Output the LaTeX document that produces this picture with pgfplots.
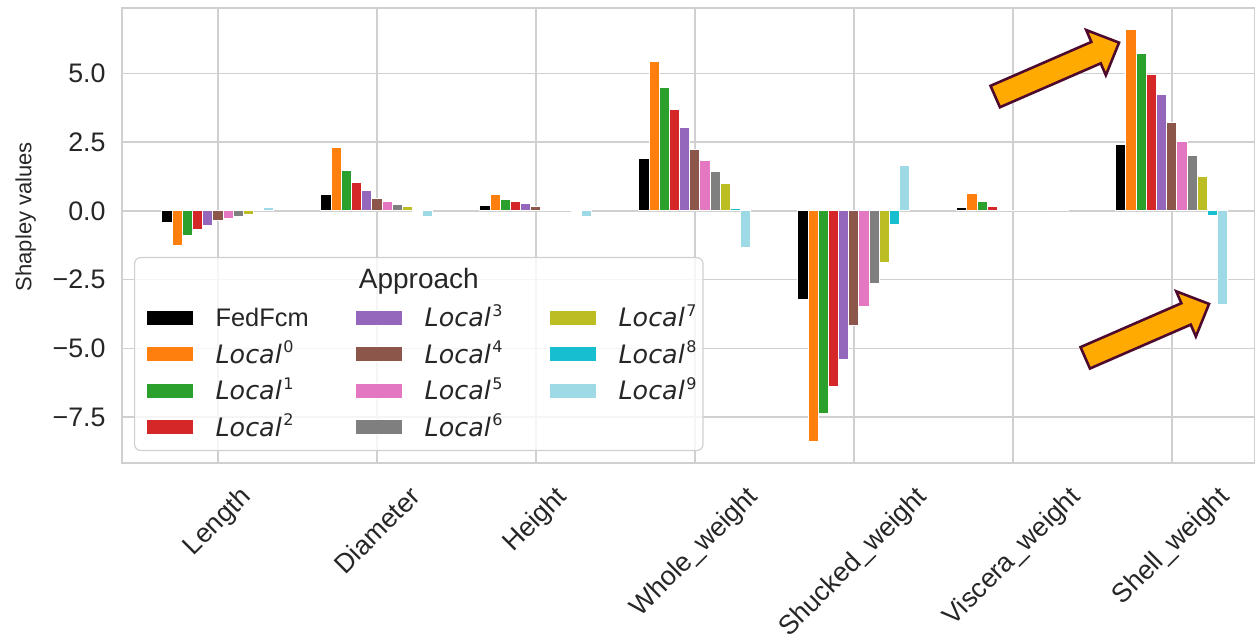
\documentclass[border=0pt]{standalone}
\usepackage{fontspec}
\setmainfont{Liberation Sans}
\newfontfamily\djv{DejaVu Sans}
\usepackage{graphicx}
\usepackage{pgfplots}
\usepackage{pgfplotstable}
\pgfplotsset{compat=1.18}

\definecolor{c0}{HTML}{000000}
\definecolor{c1}{HTML}{FF7F0E}
\definecolor{c2}{HTML}{2CA02C}
\definecolor{c3}{HTML}{D62728}
\definecolor{c4}{HTML}{9467BD}
\definecolor{c5}{HTML}{8C564B}
\definecolor{c6}{HTML}{E377C2}
\definecolor{c7}{HTML}{7F7F7F}
\definecolor{c8}{HTML}{BCBD22}
\definecolor{c9}{HTML}{17BECF}
\definecolor{c10}{HTML}{9EDAE5}
\definecolor{gridc}{HTML}{D0D0D0}
\definecolor{txt}{HTML}{262626}
\definecolor{arrfill}{HTML}{FFAA00}
\definecolor{arrdraw}{HTML}{4D0A2E}

\newcommand{\loc}[1]{{\djv\itshape Local}\kern0.8pt\raisebox{5.3pt}{\djv\fontsize{8}{8}\selectfont #1}}

\pgfplotstableread{
x     F      L0     L1     L2     L3     L4     L5     L6     L7     L8     L9
0   -0.41  -1.27  -0.88  -0.69  -0.53  -0.36  -0.29  -0.21  -0.13   0.01   0.11
1    0.61   2.32   1.47   1.02   0.75   0.46   0.36   0.25   0.15  -0.02  -0.21
2    0.19   0.61   0.42   0.35   0.27   0.15   0.07   0.05   0.01  -0.03  -0.21
3    1.92   5.43   4.50   3.70   3.03   2.25   1.82   1.43   1.00   0.08  -1.32
4   -3.21  -8.39  -7.38  -6.39  -5.42  -4.15  -3.48  -2.64  -1.88  -0.51   1.64
5    0.13   0.63   0.34   0.15   0.02   0.01   0.01   0.00   0.00   0.00   0.00
6    2.42   6.59   5.72   4.96   4.24   3.22   2.52   2.01   1.25  -0.16  -3.39
}\shap

\pgfplotsset{mybar/.style={fill=#1, draw=white, line width=0.5pt,
  legend image code/.code={\draw[fill=#1, draw=white, line width=0.5pt] (0pt,-3.75pt) rectangle (23.5pt,3.75pt);}}}

\begin{document}
\begin{tikzpicture}
\begin{axis}[
  scale only axis, width=566.5pt, height=227.65pt,
  xmin=-0.604, xmax=6.52, ymin=-9.17, ymax=7.38,
  ybar=0pt, bar width=5.09pt,
  xtick={0,1,2,3,4,5,6},
  xticklabels={\rotatebox{45}{Length},\rotatebox{45}{Diameter},\rotatebox{45}{Height},\rotatebox{45}{Whole\_weight},\rotatebox{45}{Shucked\_weight},\rotatebox{45}{Viscera\_weight},\rotatebox{45}{Shell\_weight}},
  ytick={-7.5,-5,-2.5,0,2.5,5},
  yticklabels={−7.5,−5.0,−2.5,0.0,2.5,5.0},
  xticklabel style={anchor=north, inner sep=0pt, yshift=-10.5pt, font=\fontsize{13.4}{16}\selectfont, text=txt},
  yticklabel style={anchor=east, inner sep=0pt, xshift=-8pt, font=\fontsize{13.4}{16}\selectfont, text=txt},
  grid=major, major grid style={gridc, line width=0.8pt},
  axis line style={gridc, line width=0.8pt},
  major tick length=0pt, tick style={draw=none},
  ylabel={Shapley values},
  every axis y label/.style={at={(rel axis cs:-0.0944,0.5416)}, rotate=90, anchor=north, inner sep=0pt, font=\fontsize{11}{13}\selectfont, text=txt},
  legend style={at={(rel axis cs:0.02056,0.3483)}, anchor=north west, draw=none, fill=none,
    inner sep=0pt, row sep=5.25pt, font=\fontsize{12.7}{14}\selectfont, text=txt,
    nodes={inner sep=0pt, text height=11pt, text depth=2pt},
    /tikz/every odd column/.append style={column sep=11pt},
    /tikz/every even column/.append style={column sep=23pt}},
  legend cell align=left,
  transpose legend, legend columns=4,
]
\addplot[mybar=c0] table[x=x, y=F] {\shap};
\addplot[mybar=c1] table[x=x, y=L0] {\shap};
\addplot[mybar=c2] table[x=x, y=L1] {\shap};
\addplot[mybar=c3] table[x=x, y=L2] {\shap};
\addplot[mybar=c4] table[x=x, y=L3] {\shap};
\addplot[mybar=c5] table[x=x, y=L4] {\shap};
\addplot[mybar=c6] table[x=x, y=L5] {\shap};
\addplot[mybar=c7] table[x=x, y=L6] {\shap};
\addplot[mybar=c8] table[x=x, y=L7] {\shap};
\addplot[mybar=c9] table[x=x, y=L8] {\shap};
\addplot[mybar=c10] table[x=x, y=L9] {\shap};
\legend{FedFcm,\loc{0},\loc{1},\loc{2},\loc{3},\loc{4},\loc{5},\loc{6},\loc{7},\loc{8},\loc{9}}

\draw[gridc, line width=0.6pt, rounded corners=3pt, fill=white, fill opacity=0.8]
  (rel axis cs:0.01121,0.45157) rectangle (rel axis cs:0.51306,0.02767);
\node[anchor=base, inner sep=0pt, text=txt, font=\fontsize{14}{16}\selectfont] at (rel axis cs:0.26214,0.38436) {Approach};

\draw[fill=arrfill, draw=arrdraw, line width=1.3pt, line join=miter]
  (axis cs:6.2347,-3.3818) -- (axis cs:6.0283,-2.9236) -- (axis cs:6.0604,-3.3564)
  -- (axis cs:5.4262,-4.9527) -- (axis cs:5.4854,-5.7309) -- (axis cs:6.1195,-4.1345)
  -- (axis cs:6.1516,-4.5673) -- cycle;
\draw[fill=arrfill, draw=arrdraw, line width=1.3pt, line join=miter]
  (axis cs:5.6685,6.1200) -- (axis cs:5.4621,6.5782) -- (axis cs:5.4942,6.1454)
  -- (axis cs:4.8600,4.5491) -- (axis cs:4.9192,3.7709) -- (axis cs:5.5533,5.3673)
  -- (axis cs:5.5854,4.9345) -- cycle;
\end{axis}
\pgfresetboundingbox
\path ([shift={(-61pt,-88.35pt)}]current axis.south west) rectangle ([shift={(0.3pt,4pt)}]current axis.north east);
\end{tikzpicture}
\end{document}
